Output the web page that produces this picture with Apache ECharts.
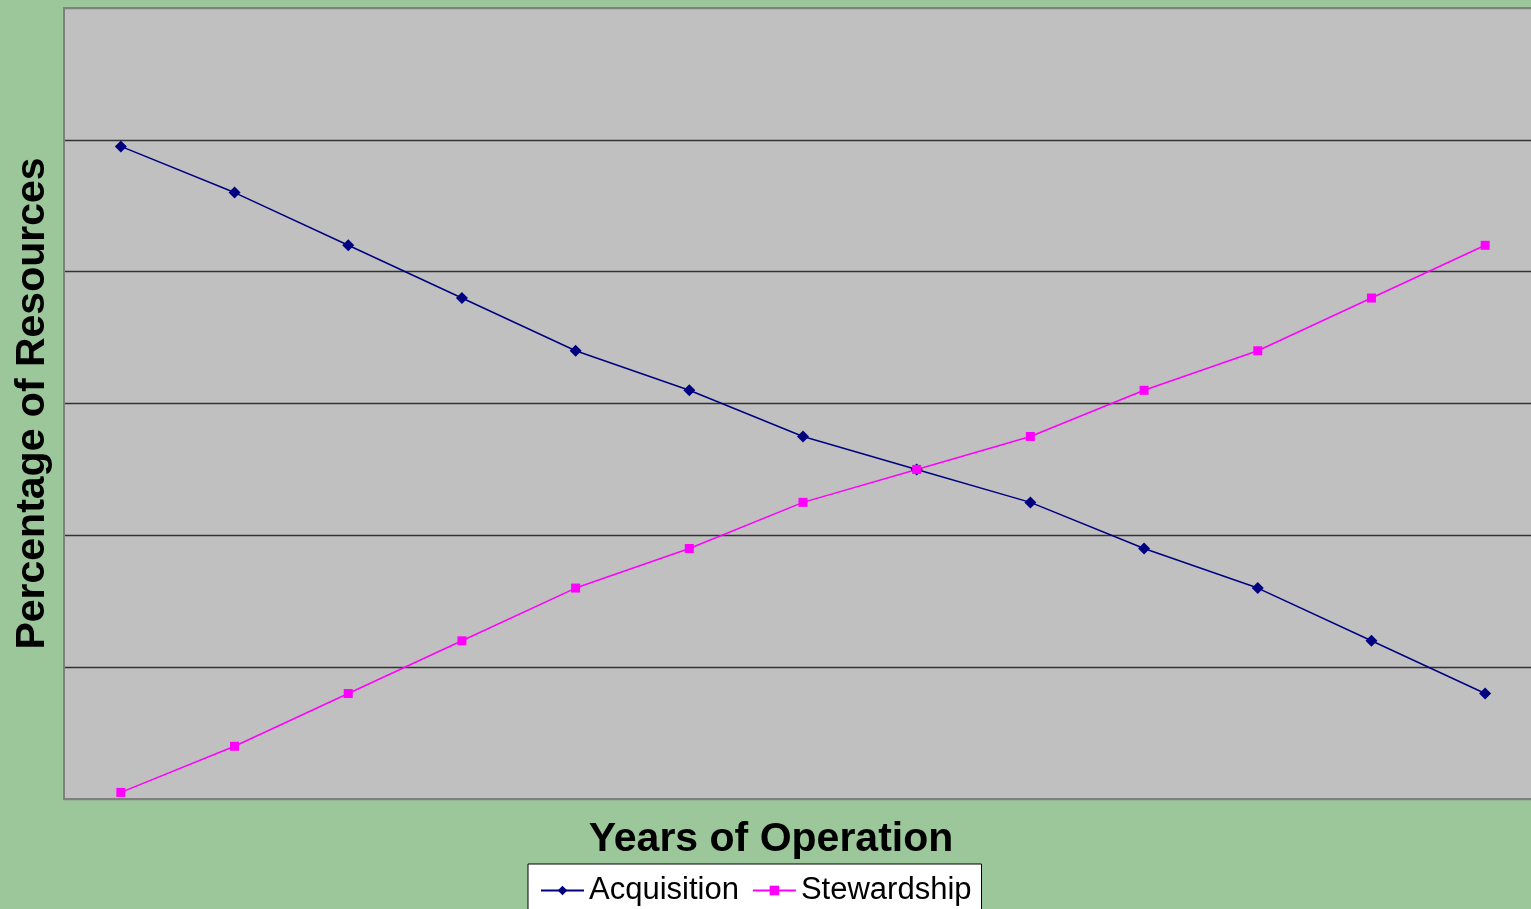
<!DOCTYPE html>
<html>
<head>
<meta charset="utf-8">
<script src="https://cdn.jsdelivr.net/npm/echarts@6/dist/echarts.min.js"></script>
<style>
  html, body { margin: 0; padding: 0; background: #9bc79b; }
  #main { width: 1531px; height: 909px; }
</style>
</head>
<body>
<div id="main"></div>
<script>
// years along the x axis (labels are not shown in the original)
var years = ['1', '2', '3', '4', '5', '6', '7', '8', '9', '10', '11', '12', '13'];
// percentage of resources
var acquisition = [99, 92, 84, 76, 68, 62, 55, 50, 45, 38, 32, 24, 16];
var stewardship = [1, 8, 16, 24, 32, 38, 45, 50, 55, 62, 68, 76, 84];

var fontFam = 'Arial, "Liberation Sans", sans-serif';

var chart = echarts.init(document.getElementById('main'));
var option = {
    backgroundColor: '#9bc79b',
    animation: false,
    grid: {
        left: 64,
        top: 8,
        width: 1478,   // plot runs a little past the right edge, like the original
        bottom: 110,
        outerBoundsMode: 'none',
        show: true,
        backgroundColor: '#c0c0c0',
        borderColor: '#808080',
        borderWidth: 2
    },
    legend: {
        left: 528,
        top: 864,
        backgroundColor: '#ffffff',
        borderColor: '#000000',
        borderWidth: 1,
        borderRadius: 0,
        padding: [11, 10, 12, 12],
        itemGap: 13,
        itemWidth: 43,
        itemHeight: 12,
        textStyle: { fontFamily: fontFam, fontSize: 31, color: '#000' },
        data: ['Acquisition', 'Stewardship']
    },
    xAxis: {
        type: 'category',
        data: years,
        boundaryGap: true,
        name: 'Years of Operation',
        nameLocation: 'middle',
        nameGap: 20,
        nameTextStyle: {
            fontFamily: fontFam, fontSize: 41, fontWeight: 'bold', color: '#000',
            verticalAlign: 'top', padding: [0, 64, 0, 0]
        },
        axisLine: { show: true, lineStyle: { color: '#808080', width: 2 } },
        axisTick: { show: false },
        axisLabel: { show: false },
        splitLine: { show: false }
    },
    yAxis: {
        type: 'value',
        min: 0,
        max: 120,
        interval: 20,
        name: 'Percentage of Resources',
        nameLocation: 'middle',
        nameGap: 11,
        nameTextStyle: { fontFamily: fontFam, fontSize: 41, fontWeight: 'bold', color: '#000' },
        axisLine: { show: true, lineStyle: { color: '#808080', width: 2 } },
        axisTick: { show: false },
        axisLabel: { show: false },
        splitLine: {
            show: true,
            lineStyle: {
                color: ['#808080', '#333333', '#333333', '#333333', '#333333', '#333333', '#808080'],
                width: 1.3
            }
        }
    },
    series: [
        {
            name: 'Acquisition',
            type: 'line',
            data: acquisition,
            symbol: 'diamond',
            symbolSize: 12,
            color: '#000080',
            lineStyle: { width: 1.5, color: '#000080' },
            itemStyle: { color: '#000080' }
        },
        {
            name: 'Stewardship',
            type: 'line',
            data: stewardship,
            symbol: 'rect',
            symbolSize: 9,
            color: '#ff00ff',
            lineStyle: { width: 1.5, color: '#ff00ff' },
            itemStyle: { color: '#ff00ff' }
        }
    ]
};
chart.setOption(option);
</script>
</body>
</html>
